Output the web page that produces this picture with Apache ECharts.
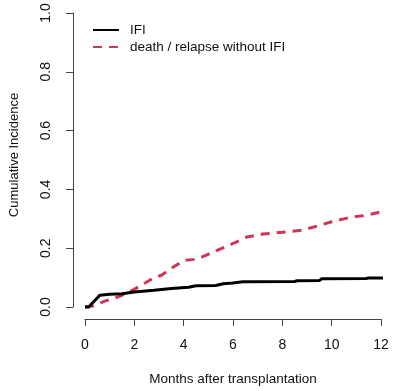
<!DOCTYPE html>
<html><head><meta charset="utf-8">
<script src="https://cdn.jsdelivr.net/npm/echarts@6/dist/echarts.min.js"></script>
<style>html,body{margin:0;padding:0;background:#fff}#c{width:400px;height:391px}</style>
</head><body><div id="c"></div>
<script>
var seriesNames = ['IFI', 'death / relapse without IFI'];
var xTicks = [0, 2, 4, 6, 8, 10, 12];
var yTicks = [0.0, 0.2, 0.4, 0.6, 0.8, 1.0];
var ifiData = [[0,0],[0.15,0],[0.6,0.040],[1.0,0.043],[1.5,0.045],[2.0,0.051],[2.8,0.057],[3.5,0.063],[4.2,0.067],[4.5,0.072],[5.3,0.073],[5.6,0.079],[6.0,0.082],[6.4,0.086],[8.5,0.087],[8.6,0.089],[9.5,0.090],[9.6,0.096],[11.4,0.097],[11.5,0.099],[12.2,0.099]];
var deathData = [[0,0],[0.3,0.003],[0.8,0.02],[1.4,0.036],[2.0,0.06],[2.4,0.08],[2.8,0.10],[3.1,0.108],[3.6,0.137],[4.0,0.158],[4.4,0.162],[4.8,0.172],[5.4,0.194],[6.0,0.216],[6.6,0.239],[7.2,0.248],[8.0,0.254],[8.8,0.261],[9.4,0.275],[10.0,0.29],[10.7,0.304],[11.4,0.312],[12.2,0.327]];

var font = 'Liberation Sans, Arial, sans-serif';
var axisCol = '#444';
var chart = echarts.init(document.getElementById('c'), null, {renderer: 'canvas'});
chart.setOption({
  animation: false,
  backgroundColor: '#fff',
  textStyle: {fontFamily: font},
  grid: {left: 80, right: 19, top: 13, bottom: 82, containLabel: false},
  legend: {
    orient: 'vertical', left: 92, top: 23, padding: 0,
    itemWidth: 26, itemHeight: 14, itemGap: 3,
    itemStyle: {opacity: 0},
    textStyle: {fontFamily: font, fontSize: 13.5, color: '#111', padding: [0,0,0,6]},
    data: seriesNames
  },
  xAxis: {
    type: 'value', min: 0, max: 12, interval: 2, offset: 12,
    name: 'Months after transplantation', nameLocation: 'middle', nameGap: 53,
    nameTextStyle: {fontFamily: font, fontSize: 13.5, color: '#111'},
    axisLine: {show: true, onZero: false, lineStyle: {color: axisCol, width: 1}},
    axisTick: {show: true, length: 7, lineStyle: {color: axisCol}},
    axisLabel: {fontFamily: font, fontSize: 14, color: '#111', margin: 19,
      formatter: function(v){ return xTicks.indexOf(v) >= 0 ? String(v) : ''; }},
    splitLine: {show: false}
  },
  yAxis: {
    type: 'value', min: 0, max: 1, interval: 0.2, offset: 12,
    name: 'Cumulative Incidence', nameLocation: 'middle', nameGap: 52,
    nameTextStyle: {fontFamily: font, fontSize: 13, color: '#111', padding: [0, 0, 0, 10]},
    axisLine: {show: true, onZero: false, lineStyle: {color: axisCol, width: 1}},
    axisTick: {show: true, length: 7, lineStyle: {color: axisCol}},
    axisLabel: {fontFamily: font, fontSize: 14, color: '#111', margin: 20, rotate: 90,
      formatter: function(v){ return v.toFixed(1); }},
    splitLine: {show: false}
  },
  series: [
    {name: seriesNames[0], type: 'line', data: ifiData, symbol: 'none', clip: false,
     lineStyle: {color: '#000', width: 3}, itemStyle: {color: '#000'}, z: 3},
    {name: seriesNames[1], type: 'line', data: deathData, symbol: 'none', clip: false,
     lineStyle: {color: '#CE3557', width: 3, type: [9, 7]}, itemStyle: {color: '#CE3557'}, z: 2}
  ]
});
</script></body></html>
